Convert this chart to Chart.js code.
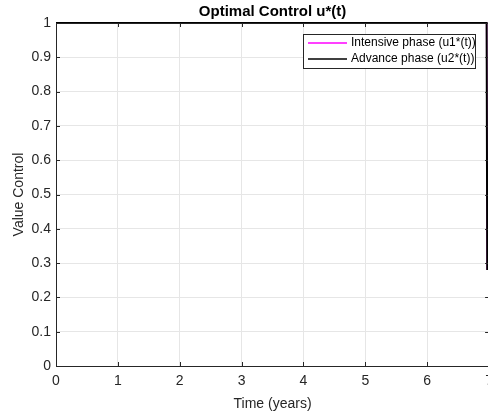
<!DOCTYPE html>
<html>
<head>
<meta charset="utf-8">
<script src="https://cdn.jsdelivr.net/npm/chart.js@4.4.1/dist/chart.umd.min.js"></script>
<style>
  html, body { margin: 0; padding: 0; overflow: hidden; background: #fff; width: 488px; height: 413px; }
  #wrap { width: 500px; height: 413px; }
</style>
</head>
<body>
<div id="wrap"><canvas id="c" width="500" height="413"></canvas></div>
<script>
// ---- data ----
const timeYears = [0, 1, 2, 3, 4, 5, 6, 6.96, 6.97];
const u1Intensive = [1, 1, 1, 1, 1, 1, 1, 1, 0.28];
const u2Advance   = [1, 1, 1, 1, 1, 1, 1, 1, 0.28];
const xTicks = [0, 1, 2, 3, 4, 5, 6, 7];
const yTicks = [0, 0.1, 0.2, 0.3, 0.4, 0.5, 0.6, 0.7, 0.8, 0.9, 1];
const seriesNames = ['Intensive phase (u1*(t))', 'Advance phase (u2*(t))'];
const titleText = 'Optimal Control u*(t)';

const FONT = "'Liberation Sans', Arial, Helvetica, sans-serif";
const AX = '#262626';

const toPts = (xs, ys) => xs.map((x, i) => ({ x: x, y: ys[i] }));

const boxPlugin = {
  id: 'boxPlugin',
  afterDraw(chart) {
    const ctx = chart.ctx, a = chart.chartArea;
    const xs = chart.scales.x, ys = chart.scales.y;
    ctx.save();
    ctx.strokeStyle = AX;
    ctx.lineWidth = 1;
    ctx.beginPath();
    xTicks.forEach(v => {
      const px = Math.round(xs.getPixelForValue(v)) + 0.5;
      ctx.moveTo(px, a.bottom); ctx.lineTo(px, a.bottom - 4);
      ctx.moveTo(px, a.top); ctx.lineTo(px, a.top + 4);
    });
    yTicks.forEach(v => {
      const py = Math.round(ys.getPixelForValue(v)) + 0.5;
      ctx.moveTo(a.left, py); ctx.lineTo(a.left + 4, py);
      ctx.moveTo(a.right, py); ctx.lineTo(a.right - 4, py);
    });
    ctx.stroke();
    ctx.strokeRect(Math.round(a.left) + 0.5, Math.round(a.top) + 0.5,
                   Math.round(a.right - a.left), Math.round(a.bottom - a.top));
    ctx.restore();
  }
};

const legendPlugin = {
  id: 'legendBox',
  afterDraw(chart) {
    const ctx = chart.ctx, a = chart.chartArea;
    ctx.save();
    ctx.font = '12px ' + FONT;
    const w = 172, h = 34;
    const x0 = 303, y0 = a.top + 11;
    ctx.fillStyle = '#fff';
    ctx.fillRect(x0, y0, w, h);
    ctx.strokeStyle = AX;
    ctx.lineWidth = 1;
    ctx.strokeRect(x0 + 0.5, y0 + 0.5, w, h);
    chart.data.datasets.forEach((ds, i) => {
      const yy = y0 + 9 + i * 16;
      ctx.strokeStyle = ds.borderColor;
      ctx.lineWidth = 1.5;
      ctx.beginPath();
      ctx.moveTo(x0 + 5, yy); ctx.lineTo(x0 + 44, yy);
      ctx.stroke();
      ctx.fillStyle = '#000';
      ctx.textBaseline = 'middle';
      ctx.textAlign = 'left';
      ctx.fillText(ds.label, x0 + 48, yy);
    });
    ctx.restore();
  }
};

new Chart(document.getElementById('c'), {
  type: 'line',
  data: {
    datasets: [
      { label: seriesNames[0], data: toPts(timeYears, u1Intensive), borderColor: '#ff00ff',
        borderWidth: 1.5, pointRadius: 0, tension: 0, order: 1, clip: 4 },
      { label: seriesNames[1], data: toPts(timeYears, u2Advance), borderColor: '#000000',
        borderWidth: 2, pointRadius: 0, tension: 0, order: 0, clip: 4 }
    ]
  },
  options: {
    responsive: false,
    animation: false,
    events: [],
    layout: { padding: { left: 0, right: 10, top: 0, bottom: 0 } },
    plugins: {
      legend: { display: false },
      tooltip: { enabled: false },
      title: {
        display: true, text: titleText, fullSize: false, color: '#000',
        font: { family: FONT, size: 15, weight: 'bold', lineHeight: 1.2 },
        padding: { top: 2.5, bottom: 2.5 }
      }
    },
    scales: {
      x: {
        type: 'linear', min: 0, max: 7,
        afterBuildTicks: s => { s.ticks = xTicks.map(v => ({ value: v })); },
        afterFit: s => { s.height = 47; },
        grid: { color: '#e6e6e6', drawTicks: false, lineWidth: 1 },
        border: { display: false },
        ticks: { color: AX, padding: 7, maxRotation: 0, font: { family: FONT, size: 14 },
                 callback: v => String(v) },
        title: { display: true, text: 'Time (years)', color: AX, padding: { top: 0, bottom: 0 },
                 font: { family: FONT, size: 14 } }
      },
      y: {
        type: 'linear', min: 0, max: 1,
        afterBuildTicks: s => { s.ticks = yTicks.map(v => ({ value: v })); },
        afterFit: s => { s.width = 56; },
        grid: { color: '#e6e6e6', drawTicks: false, lineWidth: 1 },
        border: { display: false },
        ticks: { color: AX, padding: 5, font: { family: FONT, size: 14 },
                 callback: v => String(Math.round(v * 10) / 10) },
        title: { display: true, text: 'Value Control', color: AX, padding: { top: 11, bottom: 0 },
                 font: { family: FONT, size: 14 } }
      }
    }
  },
  plugins: [boxPlugin, legendPlugin]
});
</script>
</body>
</html>
